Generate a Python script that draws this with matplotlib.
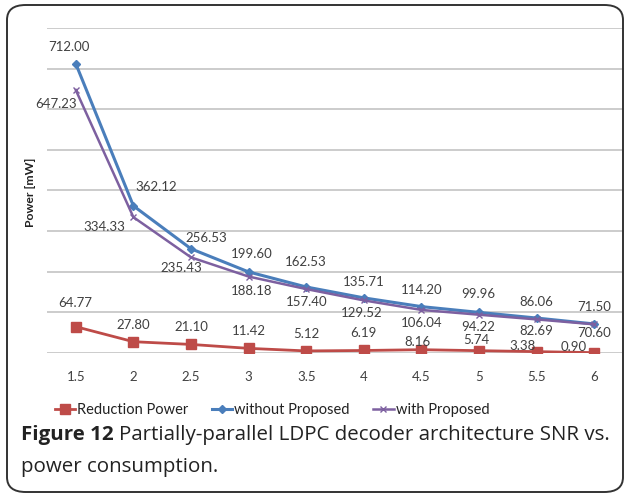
import matplotlib
matplotlib.use("Agg")
import matplotlib.pyplot as plt
from matplotlib.patches import FancyBboxPatch
import numpy as np

snr = ["1.5", "2", "2.5", "3", "3.5", "4", "4.5", "5", "5.5", "6"]
without_proposed = [712.00, 362.12, 256.53, 199.60, 162.53, 135.71, 114.20, 99.96, 86.06, 71.50]
with_proposed = [647.23, 334.33, 235.43, 188.18, 157.40, 129.52, 106.04, 94.22, 82.69, 70.60]
reduction_power = [64.77, 27.80, 21.10, 11.42, 5.12, 6.19, 8.16, 5.74, 3.38, 0.90]

# label offsets in pixels (dx, dy), dy positive = up
off_without = [(-7, 17), (23, 19), (15, 11), (3, 18), (0, 25), (0, 16), (0, 17), (-1, 18), (0, 16), (0, 17)]
off_with = [(-20, -14), (-29, -10), (-10, -11), (3, -14), (0, -13), (-2, -13), (0, -13), (-1, -12), (0, -12), (0, -9)]
off_red = [(-1, 24), (0, 17), (0, 17), (0, 17), (0, 17), (0, 17), (-4, 8), (-3, 11), (-14, 6), (-21, 6)]

FONT = "Lato"
plt.rcParams["font.family"] = [FONT, "DejaVu Sans"]

DPI = 100
fig = plt.figure(figsize=(6.25, 4.95), dpi=DPI)
W, H = 625, 495

# rounded border
border = FancyBboxPatch((7 / W, 3 / H), (623 - 7) / W, (490 - 3) / H,
                        boxstyle="round,pad=0,rounding_size=0.03",
                        transform=fig.transFigure, fill=False,
                        edgecolor="#333333", linewidth=1.4)
fig.patches.append(border)

ax = fig.add_axes([47 / W, (H - 353) / H, 576 / W, 325 / H])
x = np.arange(len(snr))
ax.set_xlim(-0.5, len(snr) - 0.5)
ax.set_ylim(0, 800)
ax.set_yticks(np.arange(0, 801, 100))
ax.set_yticklabels([])
ax.tick_params(axis="y", length=0)
ax.tick_params(axis="x", length=0, pad=13, labelsize=9.5, labelcolor="#404040")
ax.set_xticks(x)
ax.set_xticklabels(snr)
ax.grid(axis="y", color="#c8c8c8", linewidth=1.3)
ax.set_axisbelow(True)
for s in ax.spines.values():
    s.set_visible(False)

red = "#BE4B48"
blue = "#4A7EBB"
purple = "#7D60A0"

l1, = ax.plot(x, reduction_power, color=red, linewidth=2.0, marker="s", markersize=6.5,
              label="Reduction Power", zorder=3)
l2, = ax.plot(x, without_proposed, color=blue, linewidth=2.2, marker="D", markersize=4.5,
              label="without Proposed", zorder=3)
l3, = ax.plot(x, with_proposed, color=purple, linewidth=1.8, marker="x", markersize=4.5,
              markeredgewidth=1.0, label="with Proposed", zorder=4)

pt = 72.0 / DPI
for vals, offs in ((without_proposed, off_without), (with_proposed, off_with), (reduction_power, off_red)):
    for i, (v, (dx, dy)) in enumerate(zip(vals, offs)):
        ax.annotate(f"{v:.2f}", (x[i], v), xytext=(dx * pt, dy * pt), textcoords="offset points",
                    ha="center", va="center", fontsize=9.5, color="#404040", zorder=5)

ax.set_ylabel("Power [mW]", fontsize=8.8, fontweight="bold", color="#222222")
ax.yaxis.set_label_coords((36 - 47) / 576, (353 - 192) / 325)

leg = fig.legend(handles=[l1, l2, l3], loc="center", bbox_to_anchor=(272 / W, 1 - 410 / H),
                 ncol=3, frameon=False, fontsize=10.5, handlelength=1.4, handletextpad=0.15,
                 columnspacing=1.6, labelcolor="#222222")

# caption
fig.canvas.draw()
r = fig.canvas.get_renderer()
CAP_FONT = ["Open Sans", "DejaVu Sans"]
cap_size = 13.0
target_right = 607


def place_caption(size):
    a = fig.text(21 / W, 1 - 435 / H, "Figure 12", fontsize=size, fontweight="bold",
                 ha="left", va="center", color="#222222", family=CAP_FONT)
    bb = a.get_window_extent(r)
    b = fig.text((bb.x1 + 5) / W, 1 - 435 / H,
                 "Partially-parallel LDPC decoder architecture SNR vs.",
                 fontsize=size, ha="left", va="center", color="#222222", family=CAP_FONT)
    c = fig.text(21 / W, 1 - 467 / H, "power consumption.", fontsize=size, ha="left",
                 va="center", color="#222222", family=CAP_FONT)
    return a, b, c


a, b, c = place_caption(cap_size)
right = b.get_window_extent(r).x1
if abs(right - target_right) > 3:
    for t in (a, b, c):
        t.remove()
    cap_size = cap_size * (target_right - 21) / (right - 21)
    place_caption(cap_size)

fig.savefig("out.png", dpi=DPI)
